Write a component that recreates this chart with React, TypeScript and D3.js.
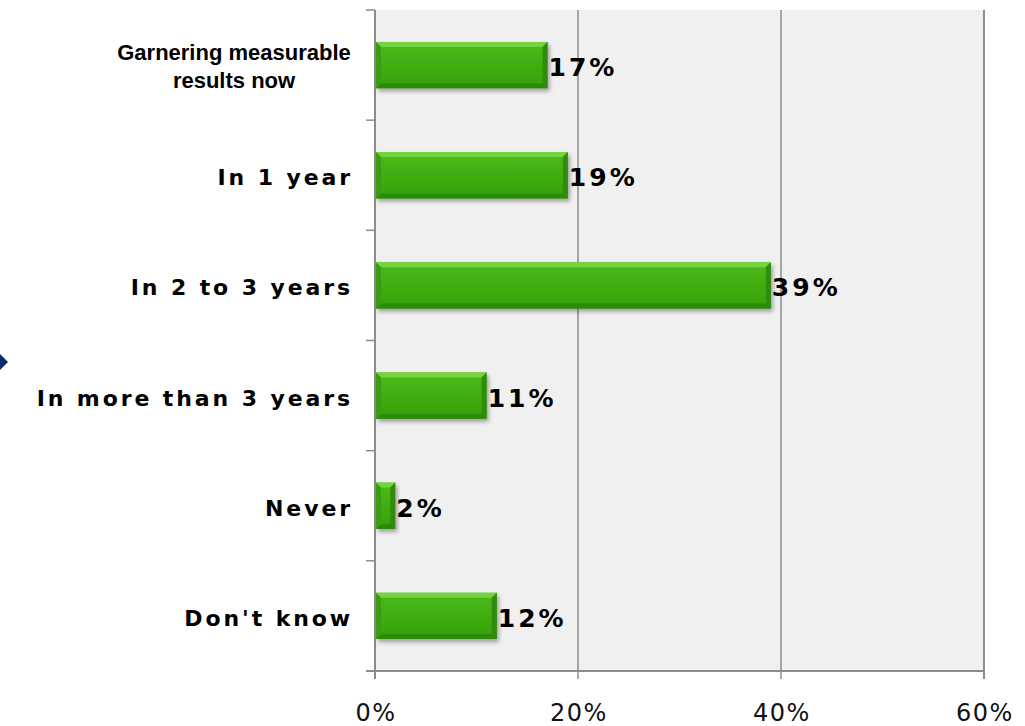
import React from "react";
import * as d3 from "d3";

const categories: string[][] = [
  ["Garnering measurable", "results now"],
  ["In 1 year"],
  ["In 2 to 3 years"],
  ["In more than 3 years"],
  ["Never"],
  ["Don't know"],
];
const values: number[] = [17, 19, 39, 11, 2, 12];
const xTicks: number[] = [0, 20, 40, 60];

const W = 1025;
const H = 726;
const left = 375;
const right = 984;
const top = 10;
const bottom = 671;

const VERD = "DejaVu Sans, Verdana, sans-serif";
const ARIAL = "Liberation Sans, Arial, sans-serif";

export default function App() {
  const x = d3.scaleLinear().domain([0, 60]).range([left, right]);
  const y = d3
    .scaleBand<number>()
    .domain(d3.range(categories.length))
    .range([top, bottom])
    .paddingInner(0.58)
    .paddingOuter(0.29);
  const step = y.step();
  const boundaries = d3.range(categories.length + 1).map((i) => top + i * step);
  const grey = "#8c8c8c";
  const b = 5;

  return (
    <svg
      width={W}
      height={H}
      style={{ position: "absolute", left: 0, top: 0, display: "block", background: "#fff" }}
    >
      <defs>
        <linearGradient id="face" x1="0" y1="0" x2="0" y2="1">
          <stop offset="0" stopColor="#4cbb18" />
          <stop offset="1" stopColor="#34a00a" />
        </linearGradient>
        <filter id="shadow" x="-10%" y="-30%" width="130%" height="180%">
          <feDropShadow dx="2" dy="3" stdDeviation="2" floodColor="#000" floodOpacity="0.35" />
        </filter>
      </defs>
      {/* left diamond marker */}
      <polygon points="-8,362 0,354 8,362 0,370" fill="#0b2a6e" />
      {/* plot background */}
      <rect x={left} y={top} width={right - left} height={bottom - top} fill="#f0f0f0" />
      {/* grid lines */}
      {xTicks.slice(1).map((t) => (
        <line
          key={"g" + t}
          x1={x(t)}
          x2={x(t)}
          y1={top}
          y2={bottom + 8}
          stroke={grey}
          strokeWidth={t === 60 ? 2 : 1.5}
        />
      ))}
      {/* left axis */}
      <line x1={left} x2={left} y1={top} y2={bottom + 8} stroke={grey} strokeWidth={2} />
      {boundaries.map((by, i) => (
        <line key={"lt" + i} x1={left - 9} x2={left} y1={by} y2={by} stroke={grey} strokeWidth={1.5} />
      ))}
      {/* bottom axis */}
      <line x1={left - 9} x2={right} y1={bottom} y2={bottom} stroke={grey} strokeWidth={2} />
      {xTicks.map((t) => (
        <text
          key={"xt" + t}
          x={x(t) + 1}
          y={721}
          textAnchor="middle"
          fontFamily={VERD}
          fontSize={24}
          letterSpacing={1.5}
          fill="#111"
        >
          {t + "%"}
        </text>
      ))}
      {/* bars */}
      {values.map((v, i) => {
        const x0 = x(0) + 1;
        const x1 = x(v);
        const y0 = y(i)!;
        const y1 = y0 + y.bandwidth();
        const bb = Math.min(b, (x1 - x0) / 2);
        return (
          <g key={"bar" + i}>
            <g filter="url(#shadow)">
              <rect x={x0} y={y0} width={x1 - x0} height={y1 - y0} fill="url(#face)" />
            </g>
            <polygon
              points={`${x0},${y0} ${x1},${y0} ${x1 - bb},${y0 + b} ${x0 + bb},${y0 + b}`}
              fill="#74d43f"
            />
            <polygon
              points={`${x0},${y1} ${x1},${y1} ${x1 - bb},${y1 - b} ${x0 + bb},${y1 - b}`}
              fill="#2c8a0a"
            />
            <polygon
              points={`${x0},${y0} ${x0 + bb},${y0 + b} ${x0 + bb},${y1 - b} ${x0},${y1}`}
              fill="#3a9e10"
            />
            <polygon
              points={`${x1},${y0} ${x1 - bb},${y0 + b} ${x1 - bb},${y1 - b} ${x1},${y1}`}
              fill="#2f8c0c"
            />
            <text
              x={x1 + 1}
              y={y0 + y.bandwidth() / 2 + 11}
              fontFamily={VERD}
              fontWeight="bold"
              fontSize={25}
              letterSpacing={3}
              fill="#000"
            >
              {v + "%"}
            </text>
          </g>
        );
      })}
      {/* category labels */}
      {categories.map((lines, i) => {
        const cy = y(i)! + y.bandwidth() / 2;
        const multi = lines.length > 1;
        if (multi) {
          const lh = 28;
          return (
            <text
              key={"cat" + i}
              textAnchor="middle"
              fontFamily={ARIAL}
              fontWeight="bold"
              fontSize={22}
              fill="#000"
            >
              {lines.map((l, j) => (
                <tspan key={j} x={234} y={cy + 9 + (j - (lines.length - 1) / 2) * lh}>
                  {l}
                </tspan>
              ))}
            </text>
          );
        }
        return (
          <text
            key={"cat" + i}
            x={353}
            y={cy + 10}
            textAnchor="end"
            fontFamily={VERD}
            fontWeight="bold"
            fontSize={22}
            letterSpacing={2.9}
            fill="#000"
          >
            {lines[0]}
          </text>
        );
      })}
    </svg>
  );
}
